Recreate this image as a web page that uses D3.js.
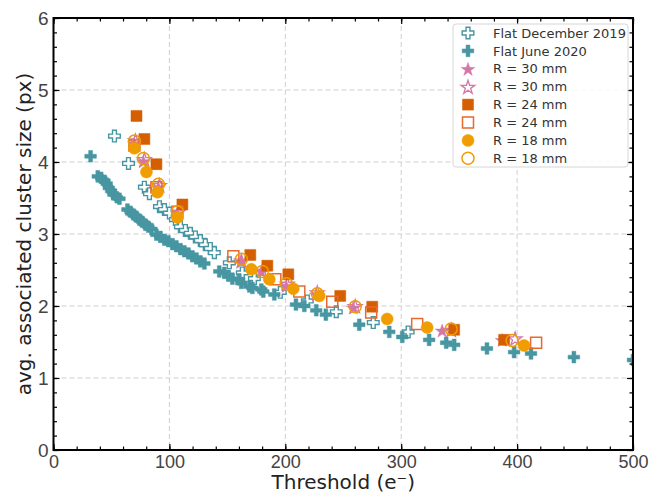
<!DOCTYPE html>
<html><head><meta charset="utf-8">
<script src="https://cdn.jsdelivr.net/npm/d3@7"></script>
<style>html,body{margin:0;padding:0;background:#fff;}</style>
</head><body>
<script>
// ---- data ----
const xTicks = [0,100,200,300,400,500];
const yTicks = [0,1,2,3,4,5,6];

const decX = [52.6,64.7,78.4,82.8,91.4,95.7,100,105.2,109.5,113.8,118.1,122.4,126.7,131,135.3,138.8,151.7,162.9,173.3,195.7,219,244,275.9,306];
const decY = [4.36,3.98,3.65,3.56,3.38,3.34,3.29,3.20,3.10,3.05,3.01,2.96,2.91,2.85,2.80,2.74,2.60,2.46,2.38,2.19,2.07,1.92,1.77,1.64];

const junX = [32,38.2,41.1,44,45.9,47.7,49.7,51.7,54.6,56.9,
  63.8,66.4,69,71.6,74.1,76.7,79.3,81.9,84.5,
  88.8,92.2,95.7,99.1,102.6,106,109.5,112.9,116.4,119.8,123.3,126.7,130.2,
  143,147.4,151,154.3,160.3,162,169,171.6,179.3,181,190.5,209.2,216.4,226.7,235,263.8,289.7,300.9,324.1,338.8,345.7,374,397.4,412,449,500];
const junY = [4.08,3.80,3.78,3.74,3.70,3.64,3.60,3.55,3.51,3.49,
  3.34,3.31,3.27,3.24,3.20,3.17,3.13,3.10,3.07,
  2.99,2.96,2.92,2.90,2.86,2.83,2.79,2.76,2.73,2.69,2.66,2.62,2.59,
  2.48,2.46,2.42,2.38,2.37,2.32,2.27,2.25,2.23,2.20,2.16,2.02,2.00,1.94,1.88,1.74,1.64,1.57,1.53,1.49,1.46,1.41,1.36,1.34,1.29,1.25];

const r30fX = [69.8,77.6,90.5,106.9,162.1,179.3,200.9,226.7,258.6,335.3,387.1];
const r30fY = [4.26,4.01,3.65,3.29,2.62,2.48,2.28,2.16,1.98,1.66,1.53];
const r30oX = [70.7,78.4,91.4,107.8,162.1,180.2,201.7,227.6,260.3,343.1,398.3];
const r30oY = [4.30,4.04,3.68,3.31,2.63,2.49,2.31,2.19,2.00,1.67,1.55];

const r24fX = [71.6,78.4,88.8,111.2,169.8,184.5,202.6,247.4,275,345.7,388.8];
const r24fY = [4.64,4.32,3.97,3.41,2.71,2.56,2.44,2.14,1.99,1.67,1.53];
const r24oX = [69.8,88.8,106.9,155.2,191.4,212.1,240.5,274.1,313.8,416.4];
const r24oY = [4.23,3.65,3.31,2.69,2.37,2.20,2.06,1.91,1.75,1.49];

const r18fX = [69.8,80.2,89.7,106.9,170.7,186.2,206.9,229.3,287.9,322.4,406];
const r18fY = [4.19,3.86,3.58,3.23,2.51,2.37,2.24,2.14,1.82,1.70,1.45];
const r18oX = [69.8,77.6,90.5,106.9,162.1,180.2,200.9,227.6,260.3,343.1,395.7];
const r18oY = [4.29,4.05,3.69,3.31,2.65,2.48,2.31,2.17,1.99,1.68,1.52];

const legendLabels = ["Flat December 2019","Flat June 2020","R = 30 mm","R = 30 mm","R = 24 mm","R = 24 mm","R = 18 mm","R = 18 mm"];

// ---- styles ----
const TEAL = "#4796a2", PINK = "#d277a8", ORS = "#d55e00", ORS2 = "#e8692e", ORC = "#ef9d00";
const series = [
  {x:decX, y:decY, shape:"plus", fill:"#fff", stroke:TEAL, sw:1.4},
  {x:junX, y:junY, shape:"plus", fill:TEAL, stroke:TEAL, sw:0.5},
  {x:r30fX, y:r30fY, shape:"star", fill:PINK, stroke:PINK, sw:0.5},
  {x:r30oX, y:r30oY, shape:"star", fill:"none", stroke:PINK, sw:1.3},
  {x:r24fX, y:r24fY, shape:"square", fill:ORS, stroke:ORS, sw:0.5},
  {x:r24oX, y:r24oY, shape:"square", fill:"none", stroke:ORS2, sw:1.5},
  {x:r18fX, y:r18fY, shape:"circle", fill:ORC, stroke:ORC, sw:0.5},
  {x:r18oX, y:r18oY, shape:"circle", fill:"none", stroke:ORC, sw:1.5}
];

function shapePath(shape){
  if(shape==="plus"){
    const s=5.8, w=s/3;
    return `M${-w},${-s}H${w}V${-w}H${s}V${w}H${w}V${s}H${-w}V${w}H${-s}V${-w}H${-w}Z`;
  }
  if(shape==="square"){ const s=5.5; return `M${-s},${-s}H${s}V${s}H${-s}Z`; }
  if(shape==="circle"){ const r=6; return `M${r},0A${r},${r} 0 1,1 ${-r},0A${r},${r} 0 1,1 ${r},0Z`; }
  if(shape==="star"){
    const R=7.2, r=R*0.382; let p=[];
    for(let i=0;i<10;i++){ const a=-Math.PI/2+i*Math.PI/5; const rr=i%2?r:R; p.push([rr*Math.cos(a), rr*Math.sin(a)+0.8]); }
    return "M"+p.map(d=>d[0].toFixed(2)+","+d[1].toFixed(2)).join("L")+"Z";
  }
}

const W=666,H=496;
const L=53.5, R=633, T=18, B=450;
const svg=d3.select("body").append("svg").attr("width",W).attr("height",H)
  .style("font-family","'DejaVu Sans', sans-serif");

const x=d3.scaleLinear().domain([0,500]).range([L,R]);
const y=d3.scaleLinear().domain([0,6]).range([B,T]);

// grid
const g=svg.append("g");
g.selectAll(".gx").data(xTicks.slice(1,-1)).enter().append("line")
  .attr("x1",d=>x(d)).attr("x2",d=>x(d)).attr("y1",T).attr("y2",B)
  .attr("stroke","#cfcfcf").attr("stroke-width",1).attr("stroke-dasharray","5,3");
g.selectAll(".gy").data(yTicks.slice(1,-1)).enter().append("line")
  .attr("y1",d=>y(d)).attr("y2",d=>y(d)).attr("x1",L).attr("x2",R)
  .attr("stroke","#cfcfcf").attr("stroke-width",1).attr("stroke-dasharray","5,3");

// clip
svg.append("clipPath").attr("id","clip").append("rect").attr("x",L).attr("y",T).attr("width",R-L).attr("height",B-T);
const pts=svg.append("g").attr("clip-path","url(#clip)");
series.forEach(s=>{
  const data=s.x.map((v,i)=>[v,s.y[i]]);
  pts.append("g").selectAll("path").data(data).enter().append("path")
    .attr("d",shapePath(s.shape))
    .attr("transform",d=>`translate(${x(d[0])},${y(d[1])})`)
    .attr("fill",s.fill).attr("stroke",s.stroke).attr("stroke-width",s.sw);
});

// axes with inward ticks
const TC="#444";
function tickAxis(axisGen, tr){
  const a=svg.append("g").attr("transform",tr).call(axisGen);
  a.select(".domain").remove();
  a.selectAll("line").attr("stroke","#000").attr("stroke-width",1.2);
  return a;
}
const xMinor=d3.range(0,501,20), yMinor=d3.range(0,6.01,0.2);
// bottom
let ax=tickAxis(d3.axisBottom(x).tickValues(xTicks).tickSize(-6).tickPadding(5).tickFormat(d3.format("d")),`translate(0,${B})`);
ax.selectAll("text").attr("fill",TC).style("font-size","18px");
tickAxis(d3.axisBottom(x).tickValues(xMinor).tickSize(-3.5).tickFormat(""),`translate(0,${B})`);
// top
tickAxis(d3.axisTop(x).tickValues(xTicks).tickSize(-6).tickFormat(""),`translate(0,${T})`);
tickAxis(d3.axisTop(x).tickValues(xMinor).tickSize(-3.5).tickFormat(""),`translate(0,${T})`);
// left
let ay=tickAxis(d3.axisLeft(y).tickValues(yTicks).tickSize(-6).tickPadding(5).tickFormat(d3.format("d")),`translate(${L},0)`);
ay.selectAll("text").attr("fill",TC).style("font-size","19px");
tickAxis(d3.axisLeft(y).tickValues(yMinor).tickSize(-3.5).tickFormat(""),`translate(${L},0)`);
// right
tickAxis(d3.axisRight(y).tickValues(yTicks).tickSize(-6).tickFormat(""),`translate(${R},0)`);
tickAxis(d3.axisRight(y).tickValues(yMinor).tickSize(-3.5).tickFormat(""),`translate(${R},0)`);

// frame
svg.append("rect").attr("x",L).attr("y",T).attr("width",R-L).attr("height",B-T)
  .attr("fill","none").attr("stroke","#000").attr("stroke-width",2);

// labels
svg.append("text").attr("x",(L+R)/2).attr("y",489).attr("text-anchor","middle")
  .attr("fill","#222").style("font-size","20px").text("Threshold (e⁻)");
svg.append("text").attr("transform",`translate(31,${(T+B)/2}) rotate(-90)`).attr("text-anchor","middle")
  .attr("fill","#222").style("font-size","20px").text("avg. associated cluster size (px)");

// legend
const lg=svg.append("g");
lg.append("rect").attr("x",453).attr("y",24).attr("width",175).attr("height",143).attr("rx",3)
  .attr("fill","#fff").attr("fill-opacity",0.85).attr("stroke","#d6d6d6").attr("stroke-width",1);
series.forEach((s,i)=>{
  const yy=33+i*17.9;
  lg.append("path").attr("d",shapePath(s.shape)).attr("transform",`translate(468,${yy})`)
    .attr("fill",s.fill).attr("stroke",s.stroke).attr("stroke-width",s.sw);
  lg.append("text").attr("x",493).attr("y",yy).attr("dy","0.36em").attr("fill","#333")
    .style("font-size","13px").text(legendLabels[i]);
});
</script>
</body></html>
